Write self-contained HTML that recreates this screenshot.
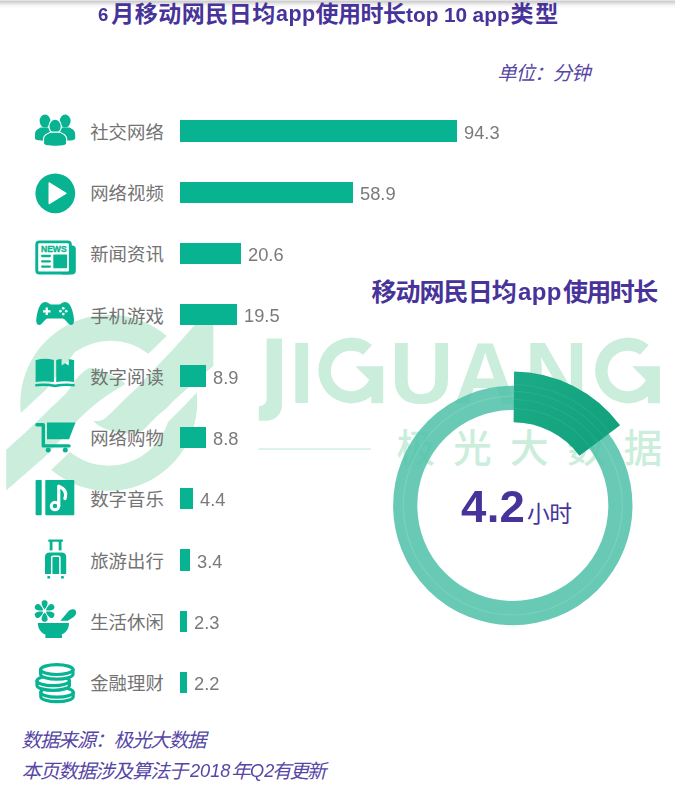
<!DOCTYPE html>
<html lang="zh"><head><meta charset="utf-8"><title>6月移动网民日均app使用时长top 10 app类型</title>
<style>
html,body{margin:0;padding:0;background:#fff;}
body{width:675px;height:794px;position:relative;overflow:hidden;font-family:"Liberation Sans",sans-serif;}
.t{position:absolute;white-space:nowrap;line-height:1.15;will-change:transform;font-family:"Liberation Sans",sans-serif;}
.bar{position:absolute;height:21.3px;background:#08b392;}
.sr{position:absolute;width:1px;height:1px;overflow:hidden;clip:rect(0 0 0 0);clip-path:inset(50%);white-space:nowrap;font-size:1px;color:transparent;left:0;top:0;}
svg{position:absolute;left:0;top:0;}
svg text{font-family:"Liberation Sans","Noto Sans CJK SC",sans-serif;}
.edge{position:absolute;left:0;top:0;width:675px;height:8px;background:linear-gradient(#f2f2f2 0,#cecece 1.2px,#d6d6d6 2.4px,#e9e9e9 4px,#f7f7f7 6px,#fff 8px);}
</style></head><body>
<div class="edge"></div>
<svg id="wm" width="675" height="794" viewBox="0 0 675 794"><g fill="#caeedb"><path d="M20.8 412.9A88.7 88.7 0 0 1 166.7 336.1L148.3 353.8A61.3 61.3 0 0 0 75.0 352.0L46 389.5Z"/><path d="M6.2 449.6C9.8 446.4 21.1 436.3 27.7 430.2C34.3 424.1 39.5 418.9 45.7 412.9C51.9 406.9 60.9 398.6 65.1 394.2C69.3 389.8 68.8 389.4 71.0 386.5C73.2 383.6 75.1 380.0 78.0 377.0C80.9 374.0 85.3 369.8 88.5 368.5C91.7 367.2 94.0 368.6 97.0 369.3C100.0 370.1 103.6 371.7 106.6 373.0C109.6 374.3 112.6 375.8 115.1 377.1C117.6 378.4 120.1 379.7 121.8 380.8C123.5 381.9 124.9 383.5 125.5 384.0C122.9 385.6 115.1 390.1 110.0 393.5C104.9 396.9 100.0 400.4 95.0 404.5C90.0 408.6 84.0 414.1 80.0 418.0C76.0 421.9 75.2 423.4 71.1 428.0C67.0 432.6 59.6 440.8 55.4 445.5C51.2 450.2 50.3 451.6 45.7 456.0C41.1 460.4 34.3 466.0 27.7 471.7C21.1 477.4 9.8 487.3 6.2 490.4Z"/><path d="M213.3 304C210.2 307.5 201.2 317.8 194.8 325.0C188.4 332.2 180.5 341.2 175.0 347.2C169.5 353.2 165.6 357.2 162.0 361.0C158.4 364.8 156.9 366.3 153.5 369.9C150.1 373.5 144.6 379.2 141.6 382.4C138.6 385.6 138.0 386.7 135.5 389.2C133.0 391.7 130.1 394.0 126.8 397.2C123.5 400.4 119.7 404.5 115.7 408.2C111.8 411.9 106.8 417.4 103.1 419.5C99.4 421.6 95.1 420.8 93.5 421.0C94.0 421.5 95.1 423.1 96.8 424.2C98.5 425.3 101.0 426.8 103.5 427.9C106.0 429.0 108.4 430.0 112.0 430.9C115.6 431.8 120.4 433.3 125.0 433.5C129.6 433.7 135.9 433.2 139.6 432.0C143.3 430.8 144.1 429.2 147.0 426.5C149.9 423.8 154.0 418.8 157.0 416.0C160.0 413.2 162.1 412.2 165.0 409.5C167.9 406.8 170.3 403.8 174.4 400.0C178.5 396.2 182.8 392.4 189.3 386.7C195.8 381.0 209.3 369.4 213.3 366.0Z"/><path d="M196.7 392.6A88.7 88.7 0 0 1 51.2 469.8L70.0 452.0A62.0 62.0 0 0 0 168.0 422.0L186.3 403.7Z"/></g><g fill="#caeedb"><path d="M266.7 338.4H281.9V405.6A15.2 15.2 0 0 1 266.7 420.8H258.8V406.3H259.2A7.5 7.5 0 0 0 266.7 398.8Z"/><text x="301.7" y="402.6" font-size="88" font-weight="bold" text-anchor="middle">I</text><path transform="translate(-276.7,0)" d="M648.7 344.9A32.9 32.9 0 1 0 648 396.6V403.3H659.9V366.2H632.1L645.9 379.9A20.2 20.2 0 1 1 639.9 354.8Z"/><text x="421.6" y="402.6" font-size="88" font-weight="bold" text-anchor="middle">U</text><text x="485.4" y="402.6" font-size="88" font-weight="bold" text-anchor="middle">A</text><text x="556.2" y="402.6" font-size="88" font-weight="bold" text-anchor="middle">N</text><path transform="translate(0,0)" d="M648.7 344.9A32.9 32.9 0 1 0 648 396.6V403.3H659.9V366.2H632.1L645.9 379.9A20.2 20.2 0 1 1 639.9 354.8Z"/></g><rect x="258.6" y="448.4" width="112.3" height="1.3" fill="#caeedb"/><g fill="#caeedb" ><text x="396.5 453.3 510.1 566.9 623.7" y="461.88" font-size="38.5" font-weight="500">极光大数据</text></g></svg>
<svg id="fg" width="675" height="794" viewBox="0 0 675 794"><g fill="#47339a" ><text x="111.32 134.82 158.33 181.84 205.34 228.85 252.36" y="21.84" font-size="23" font-weight="bold">月移动网民日均</text></g><g fill="#47339a" ><text x="315.6 338.1 360.6 383.1" y="21.84" font-size="23" font-weight="bold">使用时长</text></g><g fill="#47339a" ><text x="510.49 535.13" y="21.84" font-size="23" font-weight="bold">类型</text></g><g fill="#5646a5" ><text x="497.2 515.7 534.2 552.7 571.2" y="80.07" font-size="19.4" font-style="italic">单位：分钟</text></g><g fill="#737373" ><text x="90.2 108.6 127 145.4" y="138.69" font-size="18.4">社交网络</text></g><g fill="#737373" ><text x="90.2 108.6 127 145.4" y="199.97" font-size="18.4">网络视频</text></g><g fill="#737373" ><text x="90.2 108.6 127 145.4" y="261.25" font-size="18.4">新闻资讯</text></g><g fill="#737373" ><text x="90.2 108.6 127 145.4" y="322.53" font-size="18.4">手机游戏</text></g><g fill="#737373" ><text x="90.2 108.6 127 145.4" y="383.81" font-size="18.4">数字阅读</text></g><g fill="#737373" ><text x="90.2 108.6 127 145.4" y="445.09" font-size="18.4">网络购物</text></g><g fill="#737373" ><text x="90.2 108.6 127 145.4" y="506.37" font-size="18.4">数字音乐</text></g><g fill="#737373" ><text x="90.2 108.6 127 145.4" y="567.65" font-size="18.4">旅游出行</text></g><g fill="#737373" ><text x="90.2 108.6 127 145.4" y="628.93" font-size="18.4">生活休闲</text></g><g fill="#737373" ><text x="90.2 108.6 127 145.4" y="690.21" font-size="18.4">金融理财</text></g><g fill="#08b392"><ellipse cx="45.0" cy="121.1" rx="5.4" ry="6.5"/><path d="M35.0 138.60000000000002V134.464C35.0 130.504 37.8 129.184 40.8 127.6H49.2C52.2 129.184 55.0 130.504 55.0 134.464V138.60000000000002C55.0 140.20000000000002 50.0 140.8 45.0 140.8C40.0 140.8 35.0 140.20000000000002 35.0 138.60000000000002Z"/><ellipse cx="65.2" cy="121.1" rx="5.4" ry="6.5"/><path d="M55.2 138.60000000000002V134.464C55.2 130.504 58.0 129.184 61.0 127.6H69.4C72.4 129.184 75.2 130.504 75.2 134.464V138.60000000000002C75.2 140.20000000000002 70.2 140.8 65.2 140.8C60.2 140.8 55.2 140.20000000000002 55.2 138.60000000000002Z"/><g stroke="#fff" stroke-width="2.4" paint-order="stroke"><ellipse cx="55.1" cy="126.4" rx="5.6" ry="6.6"/><path d="M44.1 143.60000000000002V139.56C44.1 135.66000000000003 47.18 134.36 50.480000000000004 132.8H59.72C63.02 134.36 66.1 135.66000000000003 66.1 139.56V143.60000000000002C66.1 145.20000000000002 60.6 145.8 55.1 145.8C49.6 145.8 44.1 145.20000000000002 44.1 143.60000000000002Z"/></g><circle cx="55.3" cy="193.3" r="19.9"/><path d="M49.0 182.6V204.0L66.3 193.3Z" fill="#fff" stroke="#fff" stroke-width="1" stroke-linejoin="round"/><path d="M68 245.6H72.2Q75.8 245.6 75.8 249.2V270.6Q75.8 274.5 71.9 274.5H62V245.6Z"/><rect x="36.75" y="241.85" width="33.6" height="31.2" rx="2.6" fill="#fff" stroke="#08b392" stroke-width="2.9"/><rect x="53.3" y="254.6" width="13.8" height="13.7" rx="0.8"/><rect x="41.0" y="254.85" width="10.0" height="2.3" rx="1.15"/><rect x="41.0" y="260.15000000000003" width="10.0" height="2.3" rx="1.15"/><rect x="41.0" y="265.45000000000005" width="10.0" height="2.3" rx="1.15"/><text x="53.8" y="251.9" font-family="Liberation Sans, sans-serif" font-weight="bold" font-size="8.2" text-anchor="middle" textLength="25.6" lengthAdjust="spacingAndGlyphs" stroke="#08b392" stroke-width="0.35">NEWS</text><path d="M45.6 302.0C48.3 302.0 49.3 304.6 51.6 304.6H58.7C61.0 304.6 62.0 302.0 64.7 302.0C68.4 302.0 70.6 305.0 72.0 309.6C73.6 314.8 74.6 320.5 73.6 323.2C72.8 325.3 70.4 325.3 68.8 323.9C66.6 322.0 64.6 318.6 62.6 318.6H47.7C45.7 318.6 43.7 322.0 41.5 323.9C39.9 325.3 37.5 325.3 36.7 323.2C35.7 320.5 36.7 314.8 38.3 309.6C39.7 305.0 41.9 302.0 45.6 302.0Z"/><path d="M45.6 307.6h2.3v2.6h2.6v2.3h-2.6v2.6h-2.3v-2.6h-2.6v-2.3h2.6z" fill="#fff"/><circle cx="63.3" cy="308.3" r="1.35" fill="#e6fffa"/><circle cx="63.3" cy="314.09999999999997" r="1.35" fill="#e6fffa"/><circle cx="60.4" cy="311.2" r="1.35" fill="#e6fffa"/><circle cx="66.2" cy="311.2" r="1.35" fill="#e6fffa"/><path d="M35.6 360.2Q44.8 357.6 53.9 360.0V382.0Q44.8 380.6 35.6 382.0Z"/><path d="M56.2 360.0Q58.8 359.2 61.6 359.0V365.6L65.15 363.2L68.7 365.6V359.2Q71.6 359.4 74.1 360.2V382.0Q65.2 380.6 56.2 382.0Z"/><path d="M35.3 383.9Q45 382.6 55 384.6Q65 382.6 74.6 383.9V386.5Q65 385.2 55 387.2Q45 385.2 35.3 386.5Z"/><path d="M36.9 424.7H43.3V445.9H69.0" fill="none" stroke="#08b392" stroke-width="3.4" stroke-linecap="round" stroke-linejoin="round"/><path d="M47.0 422.6H75.5L69.0 439.3H47.0Z"/><circle cx="48.2" cy="450.0" r="2.5"/><circle cx="65.3" cy="450.0" r="2.5"/><rect x="35.6" y="479.9" width="6.1" height="35.3" rx="0.9"/><rect x="45.3" y="479.9" width="29.0" height="35.3" rx="0.9"/><circle cx="55.0" cy="506.1" r="3.75" fill="none" stroke="#fff" stroke-width="3.0"/><path d="M58.75 506.0V486.2C63.6 488.2 67.2 492.0 64.9 498.6" fill="none" stroke="#fff" stroke-width="3.2" stroke-linecap="round" stroke-linejoin="round"/><rect x="48.3" y="539.4" width="14.6" height="2.4" rx="0.6"/><rect x="49.7" y="540" width="2.8" height="10.4"/><rect x="58.7" y="540" width="2.8" height="10.4"/><path d="M45.0 574.0V557.0Q45.0 552.4 49.6 552.4H61.6Q66.2 552.4 66.2 557.0V574.0Z"/><path d="M51.7 574.2V557.6Q51.7 556.2 53.1 556.2H58.5Q59.9 556.2 59.9 557.6V574.2" fill="none" stroke="#fff" stroke-width="1.5"/><rect x="47.3" y="576.0" width="2.9" height="2.6" rx="0.9"/><rect x="61.0" y="576.0" width="2.9" height="2.6" rx="0.9"/><path transform="translate(44.6,611.0) rotate(-90)" d="M1.5 0C4.0 -2.2 6.4 -3.0 8.2 -3.0C10.4 -3.0 10.8 -1.0 10.8 0C10.8 1.0 10.4 3.0 8.2 3.0C6.4 3.0 4.0 2.2 1.5 0Z"/><path transform="translate(44.6,611.0) rotate(-150)" d="M1.5 0C4.0 -2.2 6.4 -3.0 8.2 -3.0C10.4 -3.0 10.8 -1.0 10.8 0C10.8 1.0 10.4 3.0 8.2 3.0C6.4 3.0 4.0 2.2 1.5 0Z"/><path transform="translate(44.6,611.0) rotate(-210)" d="M1.5 0C4.0 -2.2 6.4 -3.0 8.2 -3.0C10.4 -3.0 10.8 -1.0 10.8 0C10.8 1.0 10.4 3.0 8.2 3.0C6.4 3.0 4.0 2.2 1.5 0Z"/><path transform="translate(44.6,611.0) rotate(-270)" d="M1.5 0C4.0 -2.2 6.4 -3.0 8.2 -3.0C10.4 -3.0 10.8 -1.0 10.8 0C10.8 1.0 10.4 3.0 8.2 3.0C6.4 3.0 4.0 2.2 1.5 0Z"/><path transform="translate(44.6,611.0) rotate(-330)" d="M1.5 0C4.0 -2.2 6.4 -3.0 8.2 -3.0C10.4 -3.0 10.8 -1.0 10.8 0C10.8 1.0 10.4 3.0 8.2 3.0C6.4 3.0 4.0 2.2 1.5 0Z"/><path transform="translate(44.6,611.0) rotate(-390)" d="M1.5 0C4.0 -2.2 6.4 -3.0 8.2 -3.0C10.4 -3.0 10.8 -1.0 10.8 0C10.8 1.0 10.4 3.0 8.2 3.0C6.4 3.0 4.0 2.2 1.5 0Z"/><path d="M37.8 623.0H69.1C69.1 629.6 64.6 634.0 60.6 634.9H62.0V638.0H45.4V634.9H46.3C42.3 634.0 37.8 629.6 37.8 623.0Z"/><path d="M60.4 620.7L68.2 611.4C70.6 608.9 74.4 608.7 75.7 610.8C77.0 612.9 75.6 615.9 72.9 617.4L67.8 620.7Z"/><path d="M40.8 692.2V696.8000000000001A16.2 4.9 0 0 0 73.2 696.8000000000001V692.2Z" fill="#fff" stroke="#08b392" stroke-width="3.2" stroke-linejoin="round"/><ellipse cx="57.0" cy="692.2" rx="16.2" ry="4.9" fill="#fff" stroke="#08b392" stroke-width="3.2"/><path d="M37.0 680.8V685.4A16.2 4.9 0 0 0 69.4 685.4V680.8Z" fill="#fff" stroke="#08b392" stroke-width="3.2" stroke-linejoin="round"/><ellipse cx="53.2" cy="680.8" rx="16.2" ry="4.9" fill="#fff" stroke="#08b392" stroke-width="3.2"/><path d="M40.599999999999994 669.6V674.2A16.2 4.9 0 0 0 73.0 674.2V669.6Z" fill="#fff" stroke="#08b392" stroke-width="3.2" stroke-linejoin="round"/><ellipse cx="56.8" cy="669.6" rx="16.2" ry="4.9" fill="#fff" stroke="#08b392" stroke-width="3.2"/></g><g fill="#47339a" ><text x="371.52 395.56 419.59 443.62 467.65 491.68" y="300.5" font-size="25" font-weight="bold">移动网民日均</text></g><g fill="#47339a" ><text x="562.97 586.37 609.76 633.15" y="300.5" font-size="25" font-weight="bold">使用时长</text></g><circle cx="512.8" cy="505.5" r="107.6" fill="none" stroke="#4dc1a8" stroke-opacity="0.85" stroke-width="24.2"/><circle cx="512.8" cy="505.5" r="109.5" fill="none" stroke="#9fe0cc" stroke-opacity="0.3" stroke-width="1.2"/><defs><linearGradient id="sg" gradientUnits="userSpaceOnUse" x1="514" y1="372" x2="620" y2="455"><stop offset="0" stop-color="#1cab87"/><stop offset="1" stop-color="#10a07b"/></linearGradient><clipPath id="sc"><path d="M514.09 371.51A134.0 134.0 0 0 1 620.10 425.23L579.42 455.66A83.2 83.2 0 0 0 513.60 422.30Z"/></clipPath></defs><path d="M514.09 371.51A134.0 134.0 0 0 1 620.10 425.23L579.42 455.66A83.2 83.2 0 0 0 513.60 422.30Z" fill="url(#sg)"/><g clip-path="url(#sc)" fill="none" stroke="#fff" stroke-opacity="0.07" stroke-width="1.2"><circle cx="512.8" cy="505.5" r="97"/><circle cx="512.8" cy="505.5" r="106"/><circle cx="512.8" cy="505.5" r="114"/><circle cx="512.8" cy="505.5" r="121"/></g><g fill="#47339a" ><text x="526.97 549.27" y="521.96" font-size="22.8">小时</text></g><g fill="#5646a5" ><text x="21.5 39.9 58.3 76.7 95.1 113.5 131.9 150.3 168.7 187.1" y="747.36" font-size="19.5" font-style="italic">数据来源：极光大数据</text></g><g fill="#5646a5" ><text x="21.5 39.9 58.3 76.7 95.1 113.5 131.9 150.3 168.7" y="777.96" font-size="19.5" font-style="italic">本页数据涉及算法于</text></g><g fill="#5646a5" ><text x="230.9" y="777.96" font-size="19.5" font-style="italic">年</text></g><g fill="#5646a5" ><text x="271.9 289.4 306.9" y="777.96" font-size="19.5" font-style="italic">有更新</text></g></svg>
<div class="t" style="left:98.4px;top:4.37px;font-size:18.6px;color:#47339a;font-weight:bold;line-height:21.37px;">6</div><div class="t" style="left:276.0px;top:2.04px;font-size:21.5px;color:#47339a;font-weight:bold;letter-spacing:0.5px;line-height:24.70px;">app</div><div class="t" style="left:405.9px;top:2.68px;font-size:20.8px;color:#47339a;font-weight:bold;line-height:23.90px;word-spacing:-0.2px;">top 10 app</div><span class="sr">6月移动网民日均app使用时长top 10 app类型</span><span class="sr">单位：分钟</span><div class="bar" style="left:180px;top:120.30px;width:277.1px"></div><div class="t" style="left:464.1px;top:121.6px;font-size:18.3px;color:#7a7a7a;font-weight:normal;line-height:21px;">94.3</div><span class="sr">社交网络</span><div class="bar" style="left:180px;top:181.58px;width:173.0px"></div><div class="t" style="left:360.0px;top:182.88px;font-size:18.3px;color:#7a7a7a;font-weight:normal;line-height:21px;">58.9</div><span class="sr">网络视频</span><div class="bar" style="left:180px;top:242.86px;width:60.5px"></div><div class="t" style="left:247.5px;top:244.16px;font-size:18.3px;color:#7a7a7a;font-weight:normal;line-height:21px;">20.6</div><span class="sr">新闻资讯</span><div class="bar" style="left:180px;top:304.14px;width:57.3px"></div><div class="t" style="left:244.3px;top:305.44px;font-size:18.3px;color:#7a7a7a;font-weight:normal;line-height:21px;">19.5</div><span class="sr">手机游戏</span><div class="bar" style="left:180px;top:365.42px;width:26.0px"></div><div class="t" style="left:213.0px;top:366.72px;font-size:18.3px;color:#7a7a7a;font-weight:normal;line-height:21px;">8.9</div><span class="sr">数字阅读</span><div class="bar" style="left:180px;top:426.70px;width:25.8px"></div><div class="t" style="left:212.8px;top:428.0px;font-size:18.3px;color:#7a7a7a;font-weight:normal;line-height:21px;">8.8</div><span class="sr">网络购物</span><div class="bar" style="left:180px;top:487.98px;width:12.9px"></div><div class="t" style="left:199.9px;top:489.28px;font-size:18.3px;color:#7a7a7a;font-weight:normal;line-height:21px;">4.4</div><span class="sr">数字音乐</span><div class="bar" style="left:180px;top:549.26px;width:10.2px"></div><div class="t" style="left:197.2px;top:550.56px;font-size:18.3px;color:#7a7a7a;font-weight:normal;line-height:21px;">3.4</div><span class="sr">旅游出行</span><div class="bar" style="left:180px;top:610.54px;width:7.2px"></div><div class="t" style="left:194.2px;top:611.84px;font-size:18.3px;color:#7a7a7a;font-weight:normal;line-height:21px;">2.3</div><span class="sr">生活休闲</span><div class="bar" style="left:180px;top:671.82px;width:7.0px"></div><div class="t" style="left:194.0px;top:673.12px;font-size:18.3px;color:#7a7a7a;font-weight:normal;line-height:21px;">2.2</div><span class="sr">金融理财</span><div class="t" style="left:518.2px;top:277.88px;font-size:24px;color:#47339a;font-weight:bold;letter-spacing:0.4px;line-height:27.58px;">app</div><span class="sr">移动网民日均app使用时长</span><div class="t" style="transform-origin:0 50%;transform:scaleX(1.035);left:461.0px;top:481.58px;font-size:44.0px;color:#47339a;font-weight:bold;letter-spacing:0.3px;line-height:50.56px;">4.2</div><span class="sr">4.2小时</span><span class="sr">数据来源：极光大数据</span><div class="t" style="left:190.4px;top:760.93px;font-size:18.2px;color:#5646a5;font-weight:normal;font-style:italic;line-height:20.91px;">2018</div><div class="t" style="left:249.6px;top:760.93px;font-size:18.2px;color:#5646a5;font-weight:normal;font-style:italic;line-height:20.91px;">Q2</div><span class="sr">本页数据涉及算法于2018年Q2有更新</span>
</body></html>
